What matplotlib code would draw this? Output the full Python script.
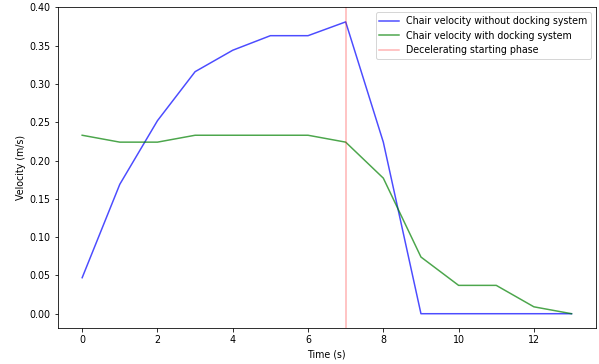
import matplotlib
matplotlib.use("Agg")
import matplotlib.pyplot as plt

time = list(range(14))
v_without = [0.047, 0.169, 0.252, 0.316, 0.344, 0.363, 0.363, 0.381, 0.224, 0.0, 0.0, 0.0, 0.0, 0.0]
v_with = [0.233, 0.224, 0.224, 0.233, 0.233, 0.233, 0.233, 0.224, 0.177, 0.074, 0.037, 0.037, 0.009, 0.0]
decel_time = 7

plt.rcParams['font.size'] = 9.55
fig = plt.figure(figsize=(599/72, 364/72), dpi=72)
ax = fig.add_axes([57.7/599, 1 - 328.3/364, (596 - 57.7)/599, (328.3 - 7.3)/364])
ax.plot(time, v_without, color='b', alpha=0.7, label='Chair velocity without docking system')
ax.plot(time, v_with, color='g', alpha=0.7, label='Chair velocity with docking system')
ax.axvline(decel_time, color='r', alpha=0.3, label='Decelerating starting phase')
ax.set_xlabel('Time (s)')
ax.set_ylabel('Velocity (m/s)')
ax.legend(loc='upper right')
fig.savefig('out.png', dpi=72)
